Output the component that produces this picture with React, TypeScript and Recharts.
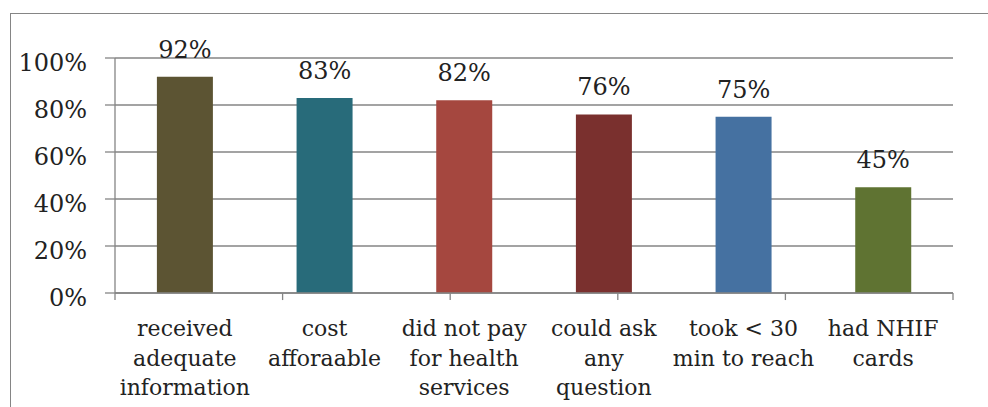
import { BarChart, Bar, XAxis, YAxis, CartesianGrid, Cell, LabelList, ReferenceLine } from 'recharts'

const categories = [
  'received\nadequate\ninformation',
  'cost\nafforaable',
  'did not pay\nfor health\nservices',
  'could ask\nany\nquestion',
  'took < 30\nmin to reach',
  'had NHIF\ncards',
]
const values = [92, 83, 82, 76, 75, 45]
const colors = ['#5c5433', '#286b7a', '#a5473f', '#7a302e', '#4571a1', '#5f7332']
const yTicks = [0, 20, 40, 60, 80, 100]
// category boundaries, used only for the little tick marks under the axis
const bounds = [0, 1, 2, 3, 4, 5, 6]

const data = categories.map((c, i) => ({ name: c, value: values[i] }))

const FONT = '"DejaVu Serif", serif'
const INK = '#222'
const GRAY = '#858585'
const LINE = { stroke: GRAY, strokeWidth: 1.3 }

function CatTick({ x, y, payload }: any) {
  const lines = String(payload.value).split('\n')
  return (
    <text x={x} y={y} textAnchor="middle" fontFamily={FONT} fontSize={22} fill={INK}>
      {lines.map((l, i) => (
        <tspan key={i} x={x} dy={i === 0 ? 43 : 29.5}>{l}</tspan>
      ))}
    </text>
  )
}

function PctTick({ x, y, payload }: any) {
  return (
    <text x={x} y={y} dy={13} textAnchor="end" fontFamily={FONT} fontSize={24} fill={INK}>
      {payload.value}%
    </text>
  )
}

export default function App() {
  return (
    <div style={{ position: 'absolute', left: 0, top: 0, width: 988, height: 407, overflow: 'hidden', background: '#fff' }}>
      {/* frame: only top and left edges are visible in the picture */}
      <div style={{ position: 'absolute', left: 10, top: 13, width: 1000, height: 420, borderTop: `1.5px solid ${GRAY}`, borderLeft: `1.5px solid ${GRAY}` }} />
      <BarChart width={988} height={407} data={data} margin={{ top: 58, right: 35, bottom: 0, left: 0 }} barCategoryGap="30%">
        <CartesianGrid vertical={false} stroke={GRAY} strokeWidth={1.3} xAxisId="cat" />
        <XAxis xAxisId="bnd" type="number" domain={[0, 6]} hide height={0} />
        <XAxis xAxisId="cat" dataKey="name" interval={0} tick={<CatTick />} tickLine={false} axisLine={LINE} tickSize={0} tickMargin={0} height={114} />
        <YAxis domain={[0, 100]} ticks={yTicks} interval={0} width={115} tick={<PctTick />} tickSize={10} tickMargin={18} axisLine={LINE} tickLine={LINE} />
        <Bar dataKey="value" xAxisId="cat" isAnimationActive={false}>
          {data.map((d, i) => (
            <Cell key={d.name} fill={colors[i]} />
          ))}
          <LabelList dataKey="value" position="top" offset={19} formatter={(v: any) => `${v}%`} fill={INK} fontSize={24} fontFamily={FONT} />
        </Bar>
        {bounds.map((b) => (
          <ReferenceLine key={b} xAxisId="bnd" segment={[{ x: b, y: 0 }, { x: b, y: -3 }]} ifOverflow="visible" stroke={GRAY} strokeWidth={1.3} />
        ))}
      </BarChart>
    </div>
  )
}
